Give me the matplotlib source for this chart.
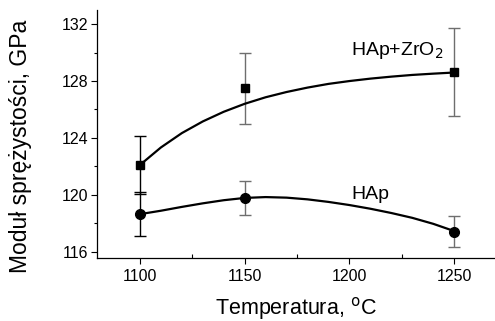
import numpy as np
import matplotlib.pyplot as plt
from matplotlib.ticker import MultipleLocator

plt.rcParams['font.family'] = ['Liberation Sans', 'DejaVu Sans']

# measured points
temp = [1100, 1150, 1250]
e_zro2 = [122.1, 127.5, 128.65]
err_zro2 = [2.05, 2.5, 3.1]
e_hap = [118.64, 119.8, 117.4]
err_hap = [1.55, 1.2, 1.1]
err_colors = ['black', '#6e6e6e', '#6e6e6e']

# fitted curves, every 10 C
curve_t = [1100, 1110, 1120, 1130, 1140, 1150, 1160, 1170,
           1180, 1190, 1200, 1210, 1220, 1230, 1240, 1250]
curve_zro2 = [122.1, 123.33, 124.34, 125.16, 125.84, 126.40, 126.86, 127.23,
              127.54, 127.80, 128.00, 128.17, 128.31, 128.43, 128.52, 128.60]
curve_hap = [118.64, 118.88, 119.15, 119.40, 119.62, 119.78, 119.84, 119.80,
             119.68, 119.50, 119.28, 119.02, 118.72, 118.38, 117.96, 117.45]

fig = plt.figure(figsize=(4.95, 3.21), dpi=100)
ax = fig.add_axes([0.196, 0.196, 0.804, 0.773])

ax.plot(curve_t, curve_zro2, color='black', lw=1.6, zorder=2)
ax.plot(curve_t, curve_hap, color='black', lw=1.6, zorder=2)

for i in range(len(temp)):
    ax.errorbar(temp[i], e_zro2[i], yerr=err_zro2[i], fmt='none',
                ecolor=err_colors[i], elinewidth=1.0, capsize=4.5, capthick=1.0, zorder=1)
    ax.errorbar(temp[i], e_hap[i], yerr=err_hap[i], fmt='none',
                ecolor=err_colors[i], elinewidth=1.0, capsize=4.5, capthick=1.0, zorder=1)

ax.plot(temp, e_zro2, 's', color='black', ms=6, zorder=3)
ax.plot(temp, e_hap, 'o', color='black', ms=7, zorder=3)

ax.text(1245, 129.8, 'HAp+ZrO$_2$', fontsize=14, ha='right', va='baseline')
ax.text(1210, 119.7, 'HAp', fontsize=14, ha='center', va='baseline')

ax.set_xlim(1079.5, 1269.5)
ax.set_ylim(115.55, 133.0)
ax.xaxis.set_major_locator(MultipleLocator(50))
ax.xaxis.set_minor_locator(MultipleLocator(25))
ax.yaxis.set_major_locator(MultipleLocator(4))
ax.yaxis.set_minor_locator(MultipleLocator(2))
ax.tick_params(axis='x', which='major', direction='out', length=4, width=0.8, labelsize=11.5, pad=4)
ax.tick_params(axis='x', which='minor', direction='in', length=3, width=0.8)
ax.tick_params(axis='y', which='major', direction='out', length=4, width=0.8, labelsize=11.5, pad=2)
ax.tick_params(axis='y', which='minor', direction='out', length=2.5, width=0.8)

ax.spines['top'].set_visible(False)
ax.spines['right'].set_visible(False)
ax.spines['left'].set_linewidth(0.9)
ax.spines['bottom'].set_linewidth(0.9)

ax.set_xlabel('Temperatura, $^{\\mathrm{o}}$C', fontsize=15.5, labelpad=8)
ax.set_ylabel('Moduł sprężystości, GPa', fontsize=16.5)
ax.yaxis.set_label_coords(-0.163, 0.45)

plt.savefig('out.png', dpi=100)
